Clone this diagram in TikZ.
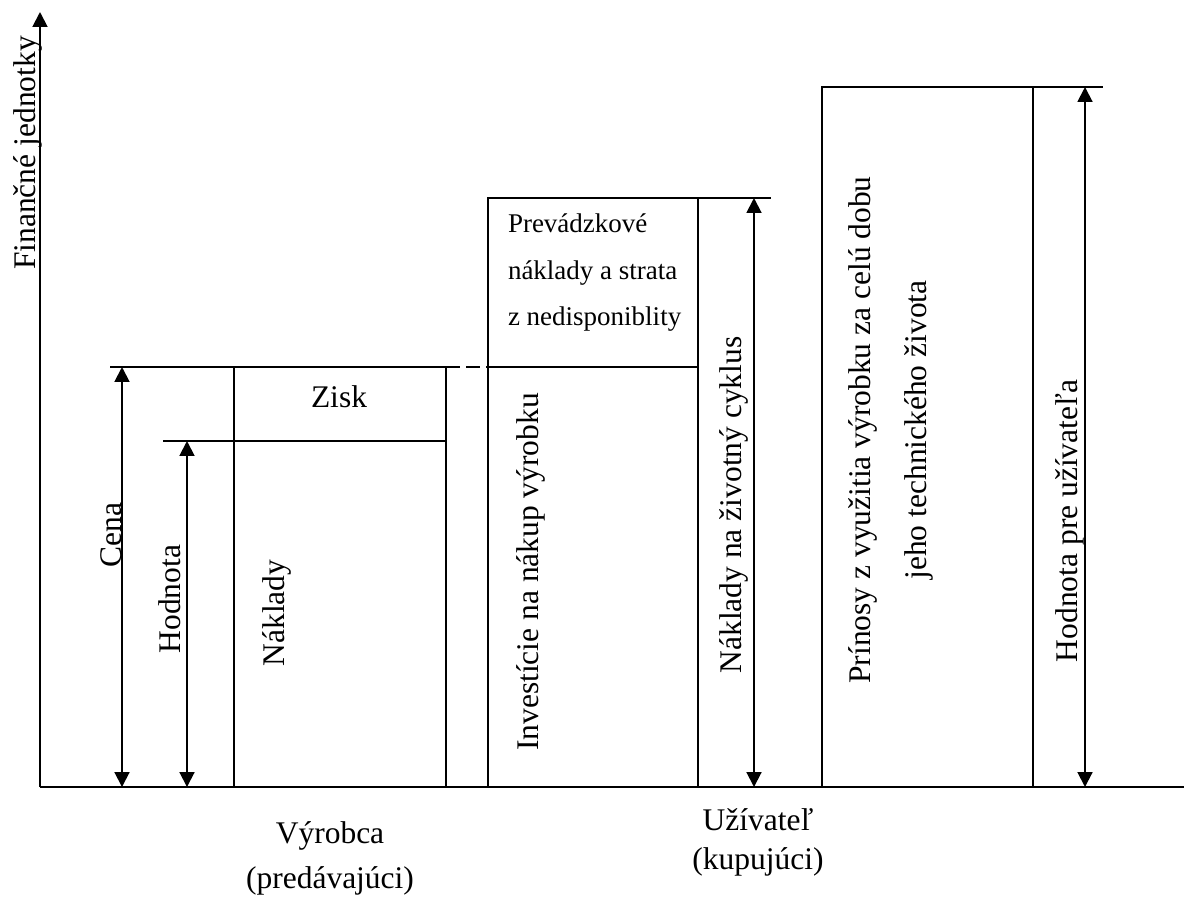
\documentclass[tikz,border=0pt]{standalone}
\usepackage{fontspec}
\setmainfont{Liberation Serif}
\usetikzlibrary{arrows.meta}
\tikzset{
  lbl/.style = {inner sep=0pt, outer sep=0pt,
                font=\fontsize{22.4}{27}\selectfont},
  vlbl/.style = {lbl, rotate=90, anchor=base},
  frame/.style = {line width=0.9pt},
  dim/.style = {line width=1.4pt,
                {Triangle[length=10.5pt,width=10.5pt]}-{Triangle[length=10.5pt,width=10.5pt]}}
}

\begin{document}
\begin{tikzpicture}[x=0.025cm, y=-0.025cm]
	\def \base{787}
	\def \cena{367}
	\def \hodn{441}
	\useasboundingbox (0,0) rectangle (1184,897);

	% Axes
	\draw[line width=1.4pt, -{Triangle[length=10.5pt,width=10.5pt]}] (40,\base) -- (40,12);
	\draw[line width=1.4pt] (40,\base) -- (1184,\base);

	% Vyrobca
	\draw[frame] (234,\base) rectangle (446,\cena);
	\draw[frame] (234,\hodn) -- (446,\hodn); % zisk
	\draw[frame] (110,\cena) -- (234,\cena);
	\draw[frame] (163,\hodn) -- (234,\hodn);
	\draw[frame, dash pattern=on 0.35cm off 0.15cm] (446,\cena) -- (488,\cena);
	\draw[dim] (122,\base) -- (122,\cena); % cena
	\draw[dim] (187,\base) -- (187,\hodn); % hodnota

	% Uzivatel
	\draw[frame] (488,\base) rectangle (698,198);
	\draw[frame] (488,\cena) -- (698,\cena);
	\draw[frame] (698,198) -- (771,198);
	\draw[dim] (754,\base) -- (754,198); % zivotny cyklus

	\draw[frame] (822,\base) rectangle (1033,87);
	\draw[frame] (1033,87) -- (1103,87);
	\draw[dim] (1085,\base) -- (1085,87); % hodnota pre uzivatela

	% Labels
	\node[vlbl] (fin) at (35,153) {Finančné jednotky};
	\node[vlbl] (cena) at (121,535) {Cena};
	\node[vlbl] (hodnota) at (180,599) {Hodnota};
	\node[vlbl] (naklady) at (284,613) {Náklady};
	\node[lbl, anchor=base] (zisk) at (339,407) {Zisk};
	\node[lbl, font=\fontsize{19.2}{33}\selectfont, align=left, anchor=north west] (prevadzka) at (508,214) {Prevádzkové\\náklady a strata\\z nedisponiblity};
	\node[vlbl] (investicie) at (538,572) {Investície na nákup výrobku};
	\node[vlbl] (lcc) at (741,505) {Náklady na životný cyklus};
	\node[lbl, rotate=90, align=center, font=\fontsize{22.4}{39.8}\selectfont] (prinosy) at (891,430) {Prínosy z využitia výrobku za celú dobu\\jeho technického života};
	\node[vlbl] (hpu) at (1077,521) {Hodnota pre užívateľa};

	\node[lbl, anchor=base] (vyrobca) at (330,843) {Výrobca};
	\node[lbl, anchor=base] (predavajuci) at (330,888) {(predávajúci)};
	\node[lbl, anchor=base] (uzivatel) at (758,830) {Užívateľ};
	\node[lbl, anchor=base] (kupujuci) at (758,869) {(kupujúci)};
\end{tikzpicture}
\end{document}
